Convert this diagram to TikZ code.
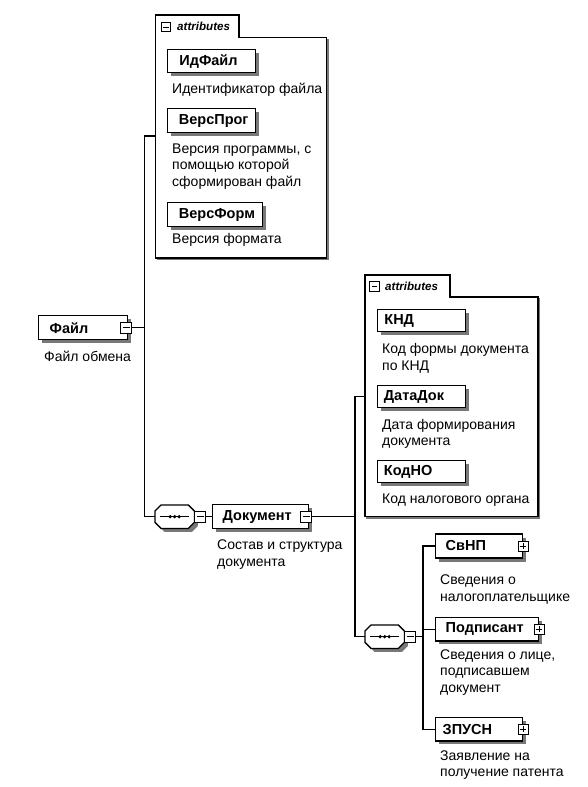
\documentclass[tikz,border=0pt]{standalone}
\usepackage{fontspec}
\setmainfont{Liberation Sans}
\definecolor{shadowgrey}{RGB}{120,120,120}
\begin{document}
\begin{tikzpicture}[x=1pt,y=-1pt,
 conn/.style={line width=1.3pt},
 shad/.style={preaction={draw=none,fill=shadowgrey,transform canvas={shift={(3.5pt,-3.5pt)}}}},
 elem/.style={shad,draw,line width=1.4pt,fill=white,anchor=north west,inner ysep=0pt,align=left,font=\bfseries\fontsize{14.5}{16}\selectfont},
 desc/.style={anchor=west,inner sep=0pt,align=left,font=\fontsize{14}{16.6}\selectfont},
 pm/.style={draw,fill=white,line width=0.9pt,minimum size=10pt,inner sep=0pt},
 minusbox/.style={pm,path picture={\draw[line width=1pt]([xshift=2pt]path picture bounding box.west)--([xshift=-2pt]path picture bounding box.east);}},
 plusbox/.style={pm,path picture={\draw[line width=1pt]([xshift=2pt]path picture bounding box.west)--([xshift=-2pt]path picture bounding box.east);\draw[line width=1pt]([yshift=-2pt]path picture bounding box.north)--([yshift=2pt]path picture bounding box.south);}},
 seqnode/.style={rectangle,minimum width=39pt,minimum height=23pt,inner sep=0pt,anchor=north west},
 octo/.style={shad,draw,fill=white,line width=1.3pt},
 attrbox/.style={draw,line width=1.2pt},
 attrshad/.style={draw=shadowgrey,line width=1.6pt},
 attrlab/.style={anchor=west,inner sep=0pt,font=\bfseries\itshape\fontsize{11.6}{13}\selectfont}
]
\useasboundingbox (0,0) rectangle (588,787);

% ---------- attributes box 1 ----------
\draw[attrshad] (327.9,39) -- (327.9,259.4) -- (157,259.4);
\draw[attrbox] (155.7,15) -- (239,15) -- (239,37.7) -- (326.7,37.7) -- (326.7,258) -- (155.7,258) -- cycle;
\node[minusbox,minimum size=9.5pt] (a1m) at (166,27) {};
\node[attrlab] (a1lab) at (177,26.5) {attributes};
\coordinate (attr1) at (155.7,136);

\node[elem,minimum height=23pt,inner xsep=12pt,text width=64.3pt] (idf) at (166.7,49) {ИдФайл};
\node[desc] (didf) at (172,90) {Идентификатор файла};
\node[elem,minimum height=24pt,inner xsep=11.5pt,text width=65.3pt] (vprog) at (166.7,108) {ВерсПрог};
\node[desc] (dvprog) at (172,166.5) {Версия программы, с\\помощью которой\\сформирован файл};
\node[elem,minimum height=24pt,inner xsep=11.5pt,text width=72.3pt] (vform) at (166.7,202) {ВерсФорм};
\node[desc] (dvform) at (172,240) {Версия формата};

% ---------- root ----------
\node[elem,minimum height=24pt,inner xsep=11pt,text width=67pt] (file) at (38,315) {Файл};
\node[minusbox,minimum size=11pt] (fileM) at (126,327.5) {};
\node[desc] (dfile) at (44,356.7) {Файл обмена};

% ---------- sequence 1 and Документ ----------
\node[seqnode] (seq1) at (155,505) {};
\draw[octo] ([xshift=6pt]seq1.north west) -- ([xshift=-6pt]seq1.north east) -- ([yshift=-6pt]seq1.north east)
    -- ([yshift=6pt]seq1.south east) -- ([xshift=-6pt]seq1.south east) -- ([xshift=6pt]seq1.south west)
    -- ([yshift=6pt]seq1.south west) -- ([yshift=-6pt]seq1.north west) -- cycle;
\draw[line width=1pt] ([xshift=5pt]seq1.west) -- ([xshift=-5pt]seq1.east);
\foreach \d in {-4.5,0,4.5}{\fill ([xshift=\d pt]seq1.center) circle (1.8pt);}
\node[minusbox,minimum size=11pt,anchor=west] (seq1M) at (seq1.east) {};
\node[elem,minimum height=24pt,inner xsep=10pt,text width=76pt] (doc) at (212,504) {Документ};
\node[minusbox,minimum size=11pt] (docM) at (306,516.5) {};
\node[desc] (ddoc) at (217,554.7) {Состав и структура\\документа};

% ---------- attributes box 2 ----------
\draw[attrshad] (539.2,298) -- (539.2,517.9) -- (366,517.9);
\draw[attrbox] (365,275) -- (450,275) -- (450,297) -- (538,297) -- (538,516.7) -- (365,516.7) -- cycle;
\node[minusbox,minimum size=9.5pt] (a2m) at (374.5,286.5) {};
\node[attrlab] (a2lab) at (385,286) {attributes};
\coordinate (attr2) at (365,396.7);

\node[elem,minimum height=22pt,inner xsep=7pt,text width=74.3pt] (knd) at (376.7,309) {КНД};
\node[desc] (dknd) at (382,358.5) {Код формы документа\\по КНД};
\node[elem,minimum height=22pt,inner xsep=6.5pt,text width=75.3pt] (data) at (376.7,385) {ДатаДок};
\node[desc] (ddata) at (382,433.7) {Дата формирования\\документа};
\node[elem,minimum height=22pt,inner xsep=6.5pt,text width=75.3pt] (kodno) at (376.7,460) {КодНО};
\node[desc] (dkodno) at (382,500) {Код налогового органа};

% ---------- sequence 2 and children ----------
\node[seqnode] (seq2) at (365,625) {};
\draw[octo] ([xshift=6pt]seq2.north west) -- ([xshift=-6pt]seq2.north east) -- ([yshift=-6pt]seq2.north east)
    -- ([yshift=6pt]seq2.south east) -- ([xshift=-6pt]seq2.south east) -- ([xshift=6pt]seq2.south west)
    -- ([yshift=6pt]seq2.south west) -- ([yshift=-6pt]seq2.north west) -- cycle;
\draw[line width=1pt] ([xshift=5pt]seq2.west) -- ([xshift=-5pt]seq2.east);
\foreach \d in {-4.5,0,4.5}{\fill ([xshift=\d pt]seq2.center) circle (1.8pt);}
\node[minusbox,minimum size=11pt,anchor=west] (seq2M) at (seq2.east) {};

\node[elem,minimum height=24pt,inner xsep=10pt,text width=66.7pt] (svnp) at (435,533.3) {СвНП};
\node[plusbox] (svnpP) at (svnp.east) {};
\node[desc] (dsvnp) at (440,589.5) {Сведения о\\налогоплательщике};
\node[elem,minimum height=23.5pt,inner xsep=10pt,text width=83pt] (podp) at (435,616.7) {Подписант};
\node[plusbox] (podpP) at (podp.east) {};
\node[desc] (dpodp) at (440,672.5) {Сведения о лице,\\подписавшем\\документ};
\node[elem,minimum height=23.5pt,inner xsep=7pt,text width=72.7pt] (zpusn) at (435,716.7) {ЗПУСН};
\node[plusbox] (zpusnP) at (zpusn.east) {};
\node[desc] (dzpusn) at (440,765) {Заявление на\\получение патента};

% ---------- connectors ----------
\coordinate (j1) at (144.3,0);
\coordinate (j2) at (355,0);
\coordinate (j3) at (423,0);
\draw[conn] (fileM.east) -- (fileM.east -| j1);
\draw[conn] (attr1) -- (attr1 -| j1) -- (seq1.west -| j1) -- (seq1.west);
\draw[conn] (seq1M.east) -- (doc.west |- seq1M.east);
\draw[conn] (docM.east) -- (docM.east -| j2);
\draw[conn] (attr2) -- (attr2 -| j2) -- (seq2.west -| j2) -- (seq2.west);
\draw[conn] (seq2M.east) -- (seq2M.east -| j3);
\draw[conn] (svnp.west) -- (svnp.west -| j3) -- (zpusn.west -| j3) -- (zpusn.west);
\draw[conn] (podp.west) -- (podp.west -| j3);
\end{tikzpicture}
\end{document}
